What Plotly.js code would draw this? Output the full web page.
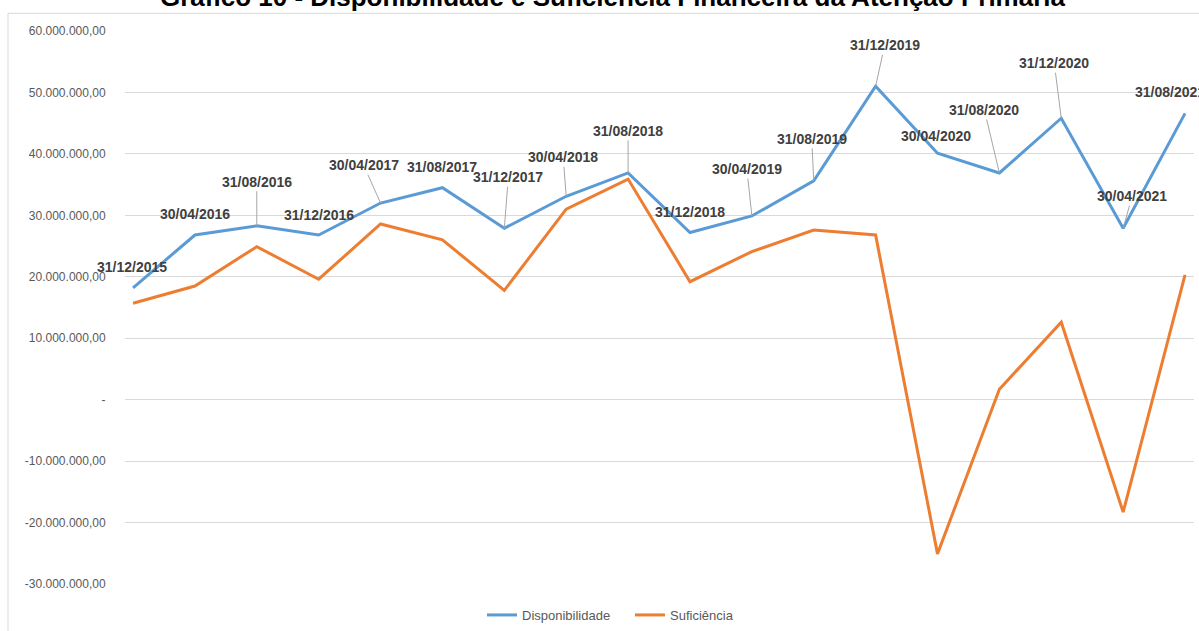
<!DOCTYPE html>
<html>
<head>
<meta charset="utf-8">
<script src="https://cdn.plot.ly/plotly-3.0.1.min.js"></script>
<style>
html,body{margin:0;padding:0;background:#fff;}
#chart{width:1199px;height:631px;}
</style>
</head>
<body>
<div id="chart"></div>
<script>
const dates = ["31/12/2015","30/04/2016","31/08/2016","31/12/2016","30/04/2017","31/08/2017",
  "31/12/2017","30/04/2018","31/08/2018","31/12/2018","30/04/2019","31/08/2019",
  "31/12/2019","30/04/2020","31/08/2020","31/12/2020","30/04/2021","31/08/2021"];
const disponibilidade = [18.2e6,26.8e6,28.3e6,26.8e6,32.0e6,34.5e6,27.9e6,33.1e6,36.9e6,
  27.2e6,29.9e6,35.6e6,51.0e6,40.1e6,36.9e6,45.8e6,27.9e6,46.6e6];
const suficiencia = [15.7e6,18.5e6,24.9e6,19.6e6,28.6e6,26.0e6,17.8e6,31.0e6,35.9e6,
  19.2e6,24.1e6,27.6e6,26.8e6,-25.1e6,1.7e6,12.6e6,-18.3e6,20.3e6];
const tickVals = [60e6,50e6,40e6,30e6,20e6,10e6,0,-10e6,-20e6,-30e6];
const tickText = ["60.000.000,00","50.000.000,00","40.000.000,00","30.000.000,00","20.000.000,00",
  "10.000.000,00","-","-10.000.000,00","-20.000.000,00","-30.000.000,00"];
const titleText = "Gráfico 10 - Disponibilidade e Suficiência Financeira da Atenção Primária";

// label placement (pixel offsets of label centre from point; arrow = leader line)
const labelPos = [
  [-1,-21,false],[0,-21,false],[0,-44,true],[0,-20,false],[-17,-38,true],[0,-21,false],
  [4,-51,true],[-3,-39,true],[0,-42,true],[0,-21,false],[-5,-47,true],[-2,-42,true],
  [9,-41,true],[-2,-17,false],[-15,-63,true],[-7,-55,true],[9,-32,true],[-15,-21,false]
];

const labelFont = {family:"Liberation Sans, Arial, sans-serif", size:14, color:"#404040", weight:"bold"};
const annotations = dates.map((d,i)=>{
  const p = labelPos[i];
  const a = {x:d, y:disponibilidade[i], xref:"x", yref:"y", text:d, font:labelFont};
  if (p[2]) {
    Object.assign(a,{showarrow:true, ax:p[0], ay:p[1], arrowhead:0, arrowwidth:1,
      arrowcolor:"#a6a6a6", standoff:0, startstandoff:0});
  } else {
    Object.assign(a,{showarrow:false, xshift:p[0], yshift:-p[1], xanchor:"center", yanchor:"middle"});
  }
  return a;
});
annotations.push({
  text:titleText, xref:"paper", yref:"paper", x:(613-125)/1069, y:(584+3)/553.3,
  xanchor:"center", yanchor:"middle", showarrow:false,
  font:{family:"Liberation Sans, Arial, sans-serif", size:26, color:"#000", weight:"bold"}
});

const traces = [
  {x:dates, y:disponibilidade, name:"Disponibilidade", type:"scatter", mode:"lines",
   line:{color:"#5B9BD5", width:3}},
  {x:dates, y:suficiencia, name:"Suficiência", type:"scatter", mode:"lines",
   line:{color:"#ED7D31", width:3}}
];

const layout = {
  width:1199, height:631,
  margin:{l:125, r:5, t:30.7, b:47, autoexpand:false},
  paper_bgcolor:"#fff", plot_bgcolor:"#fff",
  font:{family:"Liberation Sans, Arial, sans-serif", color:"#595959", size:12},
  showlegend:true,
  legend:{orientation:"h", x:(482-125)/1069, xanchor:"left", y:(584-615)/553.3, yanchor:"middle",
    entrywidth:103, entrywidthmode:"pixels",
    font:{size:13, color:"#595959"}, bgcolor:"rgba(0,0,0,0)"},
  xaxis:{type:"category", range:[-0.13,17.145], showgrid:false, zeroline:false,
    showticklabels:false, ticks:"", showline:false, fixedrange:true},
  yaxis:{range:[-30e6,60e6], tickvals:tickVals, ticktext:tickText, showgrid:true,
    gridcolor:"#d9d9d9", gridwidth:1, zeroline:false, showline:false,
    ticks:"outside", ticklen:16, tickcolor:"rgba(0,0,0,0)",
    tickfont:{size:12, color:"#595959"}, fixedrange:true},
  annotations:annotations,
  shapes:[{type:"rect", xref:"paper", yref:"paper", x0:(8-125)/1069, x1:1.05, y0:-0.2,
    y1:(584-13)/553.3, line:{color:"#d9d9d9", width:1}, layer:"below"}],
  hovermode:false
};

Plotly.newPlot("chart", traces, layout, {displayModeBar:false, staticPlot:true});
</script>
</body>
</html>
